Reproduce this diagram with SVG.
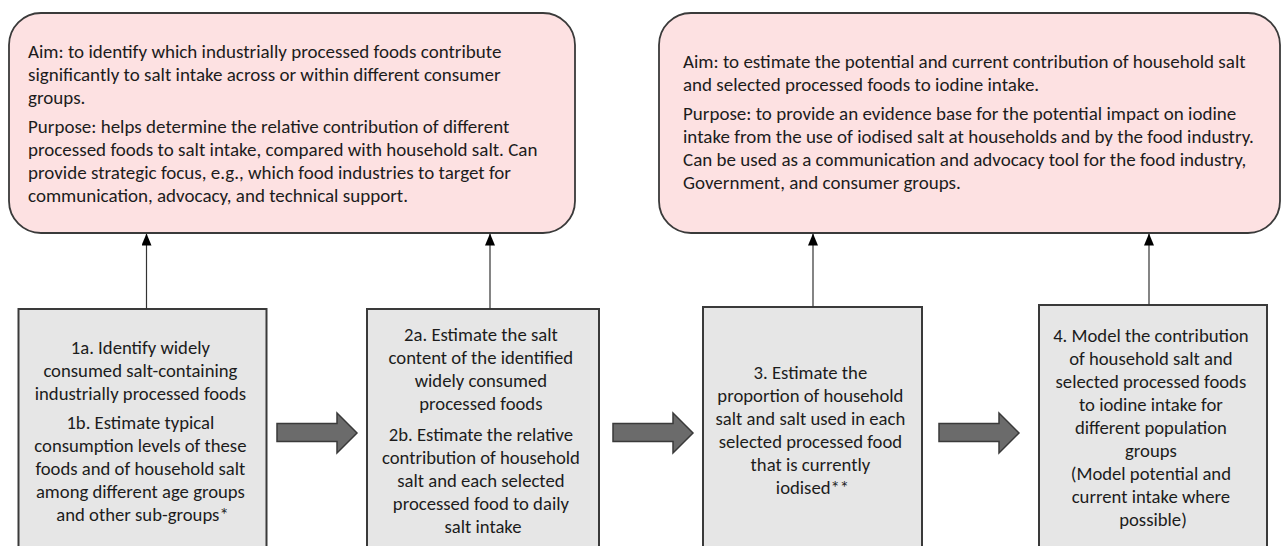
<svg xmlns="http://www.w3.org/2000/svg" width="1285" height="546" viewBox="0 0 1285 546">
  <defs>
    <marker id="tip" viewBox="0 0 12 10" refX="12" refY="5" markerWidth="12" markerHeight="10" markerUnits="userSpaceOnUse" orient="auto">
      <path d="M0,0 L12,5 L0,10 Z" fill="#000"/>
    </marker>
    <style>
      .aim { fill: #fde1e2; stroke: #3a3a3a; stroke-width: 1.8; }
      .step { fill: #e6e6e6; stroke: #3a3a3a; stroke-width: 2; }
      .txt { font-family: Carlito, Calibri, Lato, "Liberation Sans", sans-serif; fill: #1c1c1c; }
      .tl { font-size: 19px; }
      .tc { font-size: 18.7px; text-anchor: middle; }
      .link { stroke: #333; stroke-width: 1.2; fill: none; }
      .flow { fill: #6b6b6b; stroke: #3a3a3a; stroke-width: 1.5; stroke-linejoin: miter; }
    </style>
  </defs>

  <!-- objective panels -->
  <g id="aim-salt">
    <rect class="aim" x="9" y="13" width="566" height="220" rx="32" ry="32"/>
    <text class="txt tl">
      <tspan x="28" y="58">Aim: to identify which industrially processed foods contribute</tspan>
      <tspan x="28" y="81">significantly to salt intake across or within different consumer</tspan>
      <tspan x="28" y="104">groups.</tspan>
      <tspan x="28" y="133">Purpose: helps determine the relative contribution of different</tspan>
      <tspan x="28" y="156">processed foods to salt intake, compared with household salt. Can</tspan>
      <tspan x="28" y="179">provide strategic focus, e.g., which food industries to target for</tspan>
      <tspan x="28" y="202">communication, advocacy, and technical support.</tspan>
    </text>
  </g>

  <g id="aim-iodine">
    <rect class="aim" x="659" y="13" width="621" height="220" rx="32" ry="32"/>
    <text class="txt tl">
      <tspan x="683" y="68">Aim: to estimate the potential and current contribution of household salt</tspan>
      <tspan x="683" y="91">and selected processed foods to iodine intake.</tspan>
      <tspan x="683" y="120">Purpose: to provide an evidence base for the potential impact on iodine</tspan>
      <tspan x="683" y="143">intake from the use of iodised salt at households and by the food industry.</tspan>
      <tspan x="683" y="166">Can be used as a communication and advocacy tool for the food industry,</tspan>
      <tspan x="683" y="189">Government, and consumer groups.</tspan>
    </text>
  </g>

  <!-- step boxes -->
  <g id="step1">
    <rect class="step" x="18.5" y="309" width="248" height="250"/>
    <text class="txt tc">
      <tspan x="142.5" y="354">1a. Identify widely</tspan>
      <tspan x="142.5" y="377">consumed salt-containing</tspan>
      <tspan x="142.5" y="400">industrially processed foods</tspan>
      <tspan x="142.5" y="429">1b. Estimate typical</tspan>
      <tspan x="142.5" y="452">consumption levels of these</tspan>
      <tspan x="142.5" y="475">foods and of household salt</tspan>
      <tspan x="142.5" y="498">among different age groups</tspan>
      <tspan x="142.5" y="521">and other sub-groups*</tspan>
    </text>
  </g>

  <g id="step2">
    <rect class="step" x="367" y="309" width="232" height="250"/>
    <text class="txt tc">
      <tspan x="483" y="341">2a. Estimate the salt</tspan>
      <tspan x="483" y="364">content of the identified</tspan>
      <tspan x="483" y="387">widely consumed</tspan>
      <tspan x="483" y="410">processed foods</tspan>
      <tspan x="483" y="441">2b. Estimate the relative</tspan>
      <tspan x="483" y="464">contribution of household</tspan>
      <tspan x="483" y="487">salt and each selected</tspan>
      <tspan x="483" y="510">processed food to daily</tspan>
      <tspan x="483" y="533">salt intake</tspan>
    </text>
  </g>

  <g id="step3">
    <rect class="step" x="703" y="307" width="219" height="250"/>
    <text class="txt tc">
      <tspan x="812.5" y="379">3. Estimate the</tspan>
      <tspan x="812.5" y="402">proportion of household</tspan>
      <tspan x="812.5" y="425">salt and salt used in each</tspan>
      <tspan x="812.5" y="448">selected processed food</tspan>
      <tspan x="812.5" y="471">that is currently</tspan>
      <tspan x="812.5" y="494">iodised**</tspan>
    </text>
  </g>

  <g id="step4">
    <rect class="step" x="1039" y="305" width="228" height="250"/>
    <text class="txt tc">
      <tspan x="1153" y="342">4. Model the contribution</tspan>
      <tspan x="1153" y="365">of household salt and</tspan>
      <tspan x="1153" y="388">selected processed foods</tspan>
      <tspan x="1153" y="411">to iodine intake for</tspan>
      <tspan x="1153" y="434">different population</tspan>
      <tspan x="1153" y="457">groups</tspan>
      <tspan x="1153" y="480">(Model potential and</tspan>
      <tspan x="1153" y="503">current intake where</tspan>
      <tspan x="1153" y="526">possible)</tspan>
    </text>
  </g>

  <!-- connectors: step boxes feed their objective panels; block arrows chain the steps -->
  <g id="connectors">
    <line class="link" x1="146.5" y1="309" x2="146.5" y2="233.5" marker-end="url(#tip)"/>
    <line class="link" x1="490" y1="309" x2="490" y2="233.5" marker-end="url(#tip)"/>
    <line class="link" x1="813" y1="307" x2="813" y2="233.5" marker-end="url(#tip)"/>
    <line class="link" x1="1149" y1="305" x2="1149" y2="233.5" marker-end="url(#tip)"/>

    <polygon class="flow" points="277,423.5 337,423.5 337,413 357,433 337,453 337,441.5 277,441.5"/>
    <polygon class="flow" points="613,423.5 673,423.5 673,413 693,433 673,453 673,441.5 613,441.5"/>
    <polygon class="flow" points="939,423.5 999,423.5 999,413 1019,433 999,453 999,441.5 939,441.5"/>
  </g>
</svg>
